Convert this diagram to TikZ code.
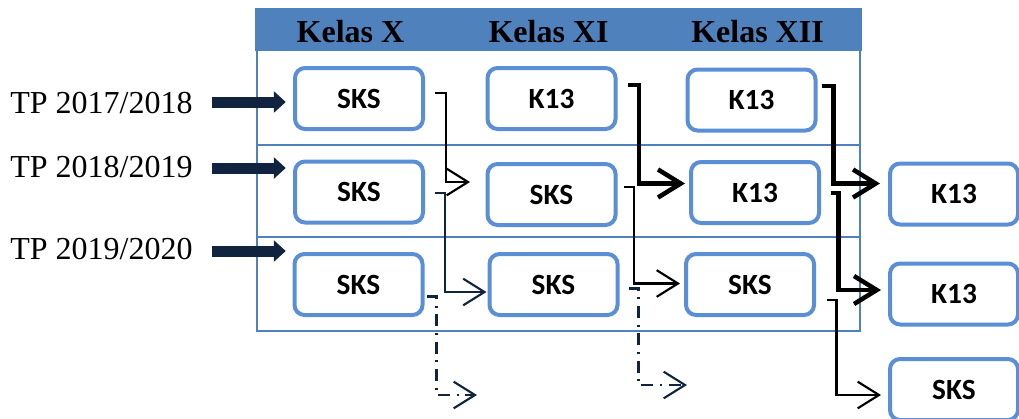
\documentclass[tikz,border=0pt]{standalone}
\usepackage{fontspec}
\setmainfont{Liberation Serif}
\newfontfamily\boxfont{Carlito}
\usetikzlibrary{arrows.meta,calc}
\definecolor{hdrblue}{HTML}{4F81BD}
\definecolor{boxblue}{HTML}{5A8FD6}
\definecolor{navy}{HTML}{10243F}
\begin{document}
\begin{tikzpicture}[x=0.75pt,y=-0.75pt,
  box/.style={draw=boxblue, line width=3pt, rounded corners=7.5pt, minimum width=96pt, minimum height=45.75pt, inner sep=0pt, fill=white, font=\boxfont\bfseries\fontsize{22}{26}\selectfont},
  tplabel/.style={font=\fontsize{24}{28}\selectfont, inner sep=0pt, anchor=base west},
  hdr/.style={font=\bfseries\fontsize{24}{28}\selectfont, inner sep=0pt, anchor=base},
  bigarrow/.style={navy, line width=8.25pt, -{Triangle[length=9pt,width=15.75pt]}},
  thinc/.style={line width=1.6pt, -{Straight Barb[length=16pt,width=20pt]}},
  thickc/.style={line width=3.4pt, -{Straight Barb[length=17pt,width=21pt]}},
  dashc/.style={navy, line width=1.6pt, dash pattern=on 9pt off 5pt on 1.5pt off 5pt, -{Straight Barb[length=16pt,width=20pt]}},
  tline/.style={draw=hdrblue, line width=2pt}
]
\useasboundingbox (0,0) rectangle (1019,418);
\clip (0,0) rectangle (1019,418);
% table
\fill[hdrblue] (255,8) rectangle (862,51);
\draw[tline] (257,51) -- (257,331) -- (860,331) -- (860,51);
\draw[tline] (257,145) -- (860,145);
\draw[tline] (257,237) -- (860,237);
\node[hdr] (h1) at (350.5,42) {Kelas X};
\node[hdr] (h2) at (548.5,42) {Kelas XI};
\node[hdr] (h3) at (757.5,42) {Kelas XII};
% labels
\node[tplabel] (tp1) at (10,113) {TP 2017/2018};
\node[tplabel] (tp2) at (10,177) {TP 2018/2019};
\node[tplabel] (tp3) at (10,259) {TP 2019/2020};
% boxes
\node[box] (A1) at (359,98.5) {\raisebox{-2pt}{SKS}};
\node[box] (B1) at (551.5,98.5) {\raisebox{-2pt}{K13}};
\node[box] (C1) at (751.5,100) {\raisebox{-2pt}{K13}};
\node[box] (A2) at (359,192) {\raisebox{-2pt}{SKS}};
\node[box] (B2) at (551.5,194.5) {\raisebox{-2pt}{SKS}};
\node[box] (C2) at (755,192.5) {\raisebox{-2pt}{K13}};
\node[box] (A3) at (358.5,284.5) {\raisebox{-2pt}{SKS}};
\node[box] (B3) at (553.5,284.5) {\raisebox{-2pt}{SKS}};
\node[box] (C3) at (750,284.5) {\raisebox{-2pt}{SKS}};
\node[box] (D1) at (954,194) {\raisebox{-2pt}{K13}};
\node[box] (D2) at (954,294) {\raisebox{-2pt}{K13}};
\node[box] (D3) at (954,389.5) {\raisebox{-2pt}{SKS}};
% big arrows
\draw[bigarrow] ([shift={(19,-11)}]tp1.base east) -- ++(74,0);
\draw[bigarrow] ([shift={(19,-9)}]tp2.base east) -- ++(74,0);
\draw[bigarrow] ([shift={(19,-8)}]tp3.base east) -- ++(74,0);
% connectors
\draw[thinc] ([shift={(10,-5.5)}]A1.east) -- ++(11,0) |- ([shift={(-15.5,-12.5)}]B2.west);
\draw[thinc,navy] ([shift={(10,1)}]A2.east) -- ++(10,0) |- ([shift={(-1,7.5)}]B3.west);
\draw[thickc] ([shift={(10,-13.5)}]B1.east) -- ++(11.5,0) |- ([shift={(-4,-9)}]C2.west);
\draw[thinc] ([shift={(6.5,-7.5)}]B2.east) -- ++(10,0) |- ([shift={(-4,-1)}]C3.west);
\draw[thickc] ([shift={(4.5,-14)}]C1.east) -- ++(11.5,0) |- ([shift={(-8,-10.5)}]D1.west);
\draw[thickc] ([shift={(9.5,0.5)}]C2.east) -- ++(8,0) |- ([shift={(-7,-4)}]D2.west);
\draw[thinc] ([shift={(11,15.5)}]C3.east) -- ++(9.5,0) |- ([shift={(-7,5.5)}]D3.west);
\coordinate (e1) at (477,395);
\coordinate (e2) at (687,385);
\draw[dashc] ([shift={(2.5,12)}]A3.east) -- ++(9.5,0) |- (e1);
\draw[dashc] ([shift={(9,4)}]B3.east) -- ++(10,0) |- (e2);
\end{tikzpicture}
\end{document}
